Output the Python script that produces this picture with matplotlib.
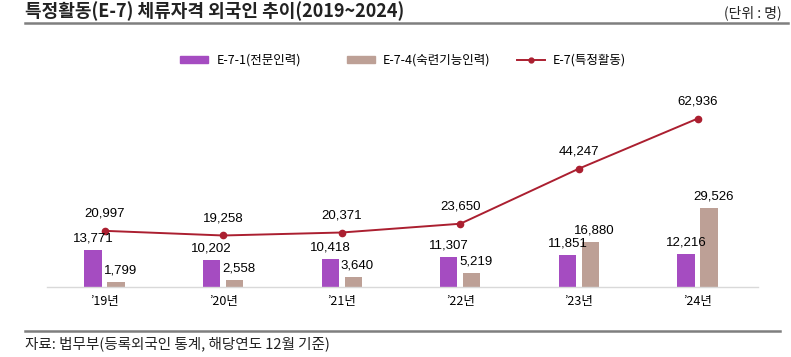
import matplotlib.pyplot as plt
from matplotlib.lines import Line2D
from matplotlib.patches import Patch
import numpy as np

plt.rcParams['font.family'] = ['Noto Sans CJK KR', 'DejaVu Sans']

# data
years = ["’19년", "’20년", "’21년", "’22년", "’23년", "’24년"]
e71 = [13771, 10202, 10418, 11307, 11851, 12216]   # E-7-1(전문인력)
e74 = [1799, 2558, 3640, 5219, 16880, 29526]       # E-7-4(숙련기능인력)
e7 = [20997, 19258, 20371, 23650, 44247, 62936]     # E-7(특정활동)

c_purple = '#A54CC1'
c_tan = '#BDA096'
c_red = '#AB1F30'

fig = plt.figure(figsize=(7.91, 3.57), dpi=100)
W, H = 791, 357

# axes placed in pixel coordinates
ax = fig.add_axes([47 / W, (H - 287) / H, 711 / W, 214 / H])
x = np.arange(len(years))
bw = 0.145
off = 0.097

ax.bar(x - off, e71, bw, color=c_purple, zorder=2)
ax.bar(x + off, e74, bw, color=c_tan, zorder=2)
ax.plot(x, e7, color=c_red, lw=1.4, marker='o', ms=4.5, zorder=3)

num_font = ['Liberation Sans', 'DejaVu Sans']
for i in range(len(x)):
    ax.annotate(f'{e71[i]:,}', (x[i] - off, e71[i]), xytext=(0, 4), textcoords='offset points',
                ha='center', va='bottom', fontsize=9.5, family=num_font)
    ax.annotate(f'{e74[i]:,}', (x[i] + off, e74[i]), xytext=(3, 4), textcoords='offset points',
                ha='center', va='bottom', fontsize=9.5, family=num_font)
    ax.annotate(f'{e7[i]:,}', (x[i], e7[i]), xytext=(0, 8), textcoords='offset points',
                ha='center', va='bottom', fontsize=9.5, family=num_font)

ax.set_xlim(-0.485, 5.51)
ax.set_ylim(0, 80000)
ax.set_xticks(x)
ax.set_xticklabels(years, fontsize=9)
ax.tick_params(axis='x', length=0, pad=6)
ax.set_yticks([])
for s in ['top', 'right', 'left']:
    ax.spines[s].set_visible(False)
ax.spines['bottom'].set_color('#D9D9D9')
ax.spines['bottom'].set_linewidth(1)

# legend: three equal-width columns
handles = [Patch(color=c_purple, label='E-7-1(전문인력)'),
           Patch(color=c_tan, label='E-7-4(숙련기능인력)'),
           Line2D([], [], color=c_red, lw=1.4, marker='o', ms=3.5, label='E-7(특정활동)')]
leg_x = [180, 347, 517]
for h, lx in zip(handles, leg_x):
    fig.legend(handles=[h], loc='center left', bbox_to_anchor=(lx / W, 1 - 60 / H),
               frameon=False, fontsize=9, handlelength=2.2, handleheight=0.5,
               handletextpad=0.7, borderpad=0, borderaxespad=0)

# title and lines
fig.text(25 / W, 1 - 11 / H, '특정활동(E-7) 체류자격 외국인 추이(2019~2024)', fontsize=13,
         fontweight='bold', va='center', ha='left', color='#222222')
fig.text(782 / W, 1 - 13 / H, '(단위 : 명)', fontsize=10, va='center', ha='right', color='#222222')
fig.add_artist(Line2D([25 / W, 788 / W], [1 - 23 / H, 1 - 23 / H], color='#7F7F7F', lw=1.8))
fig.add_artist(Line2D([25 / W, 780 / W], [1 - 331 / H, 1 - 331 / H], color='#7F7F7F', lw=1.8))
fig.text(25 / W, 1 - 344 / H, '자료: 법무부(등록외국인 통계, 해당연도 12월 기준)', fontsize=10.5,
         va='center', ha='left', color='#222222')

fig.savefig('out.png', dpi=100)
